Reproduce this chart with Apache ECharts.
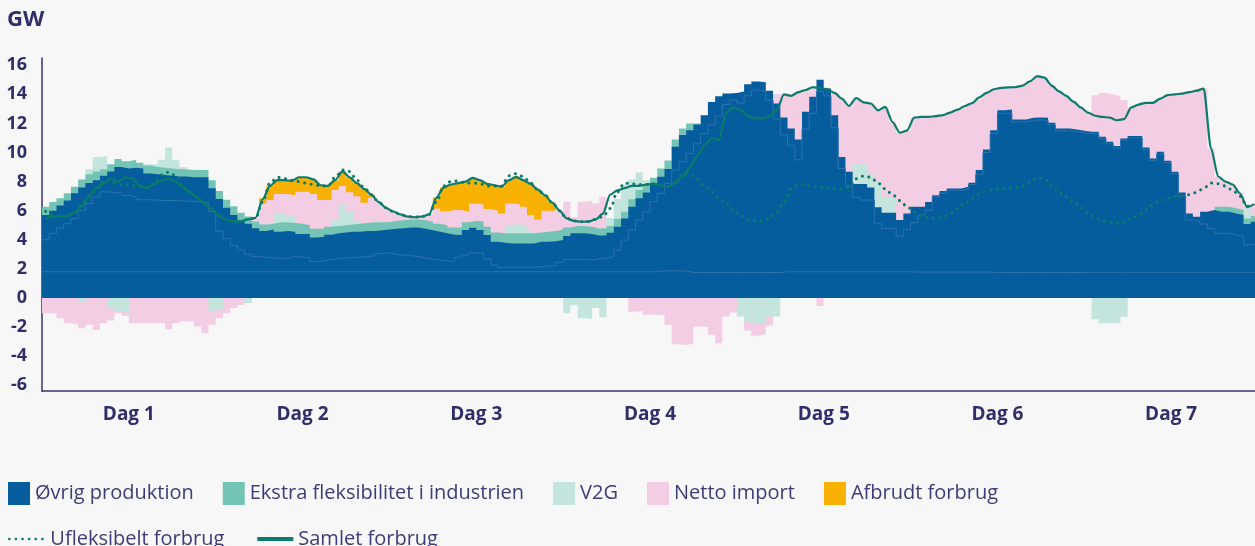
<!DOCTYPE html>
<html>
<head>
<meta charset="utf-8">
<script src="https://cdn.jsdelivr.net/npm/echarts@6.0.0/dist/echarts.min.js"></script>
<style>
html,body{margin:0;padding:0;background:#f7f7f7;}
#chart{width:1255px;height:546px;}
</style>
</head>
<body>
<div id="chart"></div>
<script>
const _ = null;
const dayLabels = ['Dag 1','Dag 2','Dag 3','Dag 4','Dag 5','Dag 6','Dag 7'];
const dayTickHours = [12,36,60,84,108,132,156];
const yTickValues = [-6,-4,-2,0,2,4,6,8,10,12,14,16];

// Level (top edge) of each band per hour, GW. 168 hours.
const ovrigBase = [
1.8,1.8,1.8,1.8,1.8,1.8,1.8,1.8,1.8,1.8,1.8,1.8,1.8,1.8,1.8,1.8,1.8,1.8,1.8,1.8,1.8,1.8,1.8,1.8,
1.8,1.8,1.8,1.8,1.8,1.8,1.8,1.8,1.8,1.8,1.8,1.8,1.8,1.8,1.8,1.8,1.8,1.8,1.8,1.8,1.8,1.8,1.8,1.8,
1.8,1.8,1.8,1.8,1.8,1.8,1.8,1.8,1.8,1.8,1.8,1.8,1.8,1.8,1.8,1.8,1.8,1.8,1.8,1.8,1.8,1.8,1.8,1.8,
1.8,1.8,1.8,1.8,1.8,1.8,1.8,1.8,1.8,1.8,1.8,1.8,1.8,1.86,1.86,1.86,1.86,1.75,1.75,1.75,1.75,1.75,1.75,1.75,
1.75,1.75,1.75,1.75,1.75,1.75,1.8,1.8,1.8,1.8,1.8,1.8,1.8,1.8,1.8,1.8,1.8,1.8,1.8,1.8,1.8,1.8,1.8,1.8,
1.78,1.78,1.78,1.78,1.78,1.78,1.78,1.78,1.78,1.78,1.78,1.75,1.75,1.75,1.75,1.75,1.75,1.75,1.75,1.75,1.75,1.75,1.75,1.75,
1.76,1.76,1.76,1.76,1.76,1.76,1.76,1.76,1.76,1.76,1.76,1.76,1.76,1.76,1.76,1.76,1.76,1.76,1.76,1.76,1.76,1.76,1.76,1.76
];
const ovrigMid = [
4.0,4.45,4.8,5.1,5.45,6.0,6.5,6.95,7.3,7.25,7.2,7.05,6.95,6.75,6.75,6.72,6.7,6.7,6.7,6.65,6.65,6.6,6.55,5.95,
4.6,4.1,3.6,3.3,3.0,2.85,2.8,2.75,2.7,2.75,2.85,2.8,2.75,2.5,2.55,2.65,2.7,2.75,2.78,2.8,2.85,2.9,3.05,3.1,
3.0,2.95,2.9,2.85,2.75,2.65,2.6,2.55,2.5,2.8,2.95,3.1,3.1,2.68,2.27,2.1,2.1,2.1,2.1,2.1,2.15,2.2,2.2,2.45,
2.65,2.65,2.65,2.6,2.7,2.72,2.84,3.3,3.98,4.67,5.36,5.93,6.62,7.19,7.88,8.79,9.36,9.94,10.6,11.3,11.9,12.5,13.3,13.6,
13.4,13.9,14.3,14.2,13.6,12.3,11.2,10.5,9.5,11.6,12.7,14.2,13.9,11.7,8.9,7.7,6.9,6.73,6.73,5.13,4.78,4.78,4.26,4.72,
5.17,5.7,6.04,6.95,7.2,7.4,7.4,7.5,7.8,8.5,10.0,11.3,12.7,12.7,12.1,12.1,12.2,12.25,12.2,11.9,11.5,11.5,11.45,11.35,
11.3,11.3,10.95,10.6,10.3,10.85,11.0,11.0,10.2,9.45,9.9,9.3,8.55,7.0,5.36,5.24,5.08,4.78,4.44,4.44,4.33,4.21,3.64,3.75
];
const ovrigTop = [
5.7,6.0,6.35,6.7,7.2,7.6,7.9,8.1,8.4,8.7,9.0,8.9,8.95,8.9,8.55,8.5,8.45,8.4,8.35,8.35,8.3,8.3,8.3,7.55,
6.8,6.2,5.7,5.35,5.1,4.8,4.6,4.7,4.55,4.6,4.55,4.4,4.4,4.15,4.2,4.35,4.45,4.5,4.55,4.55,4.6,4.6,4.65,4.7,
4.75,4.8,4.85,4.85,4.75,4.65,4.55,4.45,4.35,4.33,4.67,4.83,4.67,4.33,3.87,3.8,3.75,3.75,3.75,3.75,3.87,3.87,3.9,3.98,
4.26,4.44,4.44,4.4,4.3,4.3,4.49,4.9,5.47,6.27,6.85,7.25,7.88,8.33,8.87,10.4,11.2,11.54,11.93,12.57,13.48,13.87,14.06,14.1,
14.2,14.7,14.88,14.83,14.24,13.37,12.4,11.65,10.9,12.8,13.83,15.0,14.4,12.57,9.7,8.68,7.83,7.83,7.6,6.23,5.86,5.86,5.36,5.81,
6.27,6.27,6.59,7.07,7.35,7.53,7.53,7.65,7.92,8.79,10.2,11.54,12.9,12.96,12.27,12.27,12.39,12.4,12.39,12.04,11.65,11.65,11.58,11.49,
11.42,11.42,11.08,10.74,10.44,10.97,11.13,11.13,10.35,9.59,10.05,9.43,8.68,7.25,5.81,5.59,5.93,6.04,5.93,5.93,5.81,5.7,5.08,5.24
];
const ekstraTop = [
6.27,6.6,6.85,7.2,7.65,8.15,8.5,8.7,8.85,9.2,9.55,9.4,9.5,9.3,9.1,9.0,8.95,8.9,8.85,8.85,8.8,8.8,8.8,8.1,
7.35,6.75,6.3,5.85,5.6,5.25,5.05,5.1,5.2,5.2,5.15,5.1,5.0,4.75,4.75,4.9,4.95,5.0,5.05,5.1,5.15,5.2,5.2,5.2,
5.3,5.35,5.4,5.4,5.35,5.25,5.1,5.0,4.85,4.85,5.2,5.3,5.25,4.9,4.5,4.45,4.45,4.45,4.45,4.45,4.5,4.55,4.6,4.7,
4.85,4.95,4.95,4.9,4.78,4.8,4.95,5.45,5.93,6.78,7.42,7.8,8.26,8.9,9.45,10.9,11.65,12.0,12.0,_,_,_,_,_,
_,_,_,_,_,_,_,_,_,_,_,_,_,_,_,_,_,_,_,_,_,_,_,_,
_,_,_,_,_,_,_,_,_,_,_,_,_,_,_,_,_,_,_,_,_,_,_,_,
_,_,_,_,_,_,_,_,_,_,_,_,_,_,_,_,_,_,6.27,6.27,6.16,6.04,5.47,5.63
];
const v2gTop = [
_,_,_,_,_,_,8.85,9.7,9.75,_,_,_,_,_,9.2,9.2,9.5,10.35,9.5,9.0,_,_,_,_,
_,_,_,_,_,_,_,_,5.8,5.7,5.65,_,_,_,_,_,5.35,6.4,5.95,5.25,_,_,_,_,
_,_,_,_,_,_,_,_,_,_,_,_,_,_,_,_,5.0,5.1,4.95,4.6,_,_,_,_,
_,_,_,_,_,_,5.5,6.8,7.8,8.15,8.62,8.1,_,_,_,_,_,_,_,_,_,_,_,_,
_,_,_,_,_,_,_,_,_,_,_,_,_,_,_,_,9.2,9.2,8.5,8.0,6.96,6.96,_,_,
_,_,_,_,_,_,_,_,_,_,_,_,_,_,_,_,_,_,_,_,_,_,_,_,
_,_,_,_,_,_,_,_,_,_,_,_,_,_,_,_,_,_,_,_,_,_,6.16,_
];
const importTop = [
_,_,_,_,_,_,_,_,_,_,_,_,_,_,_,_,_,_,_,_,_,_,_,_,
_,_,_,_,_,5.5,6.5,6.73,7.14,7.14,7.07,7.3,7.3,7.14,6.73,6.73,7.42,7.69,7.26,7.0,6.55,6.91,6.6,6.2,
5.95,5.75,5.6,5.55,5.6,5.75,6.15,5.95,6.05,6.05,5.93,6.5,6.43,6.11,6.0,5.81,6.5,6.46,6.27,5.7,5.4,6.0,6.0,6.0,
6.62,5.55,6.62,6.66,6.5,6.96,_,_,_,_,_,_,_,_,_,_,_,_,_,_,_,_,_,_,
_,_,_,_,_,14.0,14.05,13.95,14.15,14.3,14.5,_,14.45,14.1,13.7,13.2,13.75,13.45,13.37,12.9,13.14,12.1,11.36,11.5,
12.4,12.45,12.45,12.5,12.57,12.75,12.95,13.2,13.4,13.8,14.1,14.35,14.45,14.48,14.5,14.6,14.9,15.25,15.15,14.6,14.2,13.9,13.5,13.1,
12.75,13.94,14.1,14.0,13.87,13.6,13.1,13.3,13.42,13.42,13.7,13.95,14.0,14.05,14.15,14.25,14.4,10.3,8.35,8.0,7.8,7.2,6.3,6.45
];
const afbrudtTop = [
_,_,_,_,_,_,_,_,_,_,_,_,_,_,_,_,_,_,_,_,_,_,_,_,
_,_,_,_,_,_,6.85,7.7,8.1,8.1,8.05,8.3,8.3,8.15,7.75,7.7,8.1,8.7,8.3,7.9,7.5,7.1,_,_,
_,_,_,_,_,_,6.9,7.6,7.8,7.9,8.0,8.25,8.1,7.85,7.75,7.65,8.1,8.33,8.1,7.85,7.45,7.05,6.55,_,
_,_,_,_,_,_,_,_,_,_,_,_,_,_,_,_,_,_,_,_,_,_,_,_,
_,_,_,_,_,_,_,_,_,_,_,_,_,_,_,_,_,_,_,_,_,_,_,_,
_,_,_,_,_,_,_,_,_,_,_,_,_,_,_,_,_,_,_,_,_,_,_,_,
_,_,_,_,_,_,_,_,_,_,_,_,_,_,_,_,_,_,_,_,_,_,_,_
];
// Negative side: bottom edge levels
const importNeg = [
-1.05,-1.05,-1.4,-1.74,-1.85,-2.08,-1.85,-2.2,-1.74,-1.56,-1.05,-1.24,-1.74,-1.74,-1.7,-1.74,-1.74,-2.15,-1.74,-1.6,-1.6,-1.97,-2.43,-1.85,
-1.4,-1.05,-0.7,-0.48,_,_,_,_,_,_,_,_,_,_,_,_,_,_,_,_,_,_,_,_,
_,_,_,_,_,_,_,_,_,_,_,_,_,_,_,_,_,_,_,_,_,_,_,_,
_,_,_,_,_,_,_,_,_,-0.95,-0.9,-1.15,-1.15,-1.17,-1.85,-3.18,-3.23,-3.15,-1.97,-2.0,-2.54,-3.11,-1.28,-1.0,
_,-2.24,-2.6,-2.5,-1.9,_,_,_,_,_,_,-0.55,_,_,_,_,_,_,_,_,_,_,_,_,
_,_,_,_,_,_,_,_,_,_,_,_,_,_,_,_,_,_,_,_,_,_,_,_,
_,_,_,_,_,_,_,_,_,_,_,_,_,_,_,_,_,_,_,_,_,_,_,_
];
const v2gNeg = [
_,_,_,_,_,-0.3,_,_,_,-0.7,-0.94,-1.05,_,_,_,_,_,_,_,_,_,_,_,-0.94,
-0.8,_,_,_,-0.35,_,_,_,_,_,_,_,_,_,_,_,_,_,_,_,_,_,_,_,
_,_,_,_,_,_,_,_,_,_,_,_,_,_,_,_,_,_,_,_,_,_,_,_,
-1.05,-0.5,-1.4,-1.45,-0.7,-1.33,_,_,_,_,_,_,_,_,_,_,_,_,_,_,_,_,_,_,
-1.28,-1.6,-1.8,-1.8,-1.28,-1.28,_,_,_,_,_,_,_,_,_,_,_,_,_,_,_,_,_,_,
_,_,_,_,_,_,_,_,_,_,_,_,_,_,_,_,_,_,_,_,_,_,_,_,
_,-1.47,-1.74,-1.74,-1.74,-1.3,_,_,_,_,_,_,_,_,_,_,_,_,_,_,_,_,_,_
];
const samletForbrug = [
5.45,5.6,5.62,5.63,5.88,6.3,7.05,7.55,7.9,8.2,7.98,8.3,8.2,7.7,7.55,7.82,8.08,8.2,7.98,7.6,7.25,6.88,6.45,6.1,
5.62,5.36,5.28,5.28,5.4,5.5,6.8,7.7,8.1,8.1,8.05,8.3,8.3,8.15,7.75,7.7,8.1,8.7,8.3,7.9,7.5,7.1,6.6,6.2,
5.95,5.75,5.6,5.55,5.6,5.75,6.9,7.6,7.8,7.9,8.0,8.25,8.1,7.85,7.75,7.65,8.1,8.33,8.1,7.85,7.45,7.05,6.55,6.0,
5.47,5.3,5.24,5.25,5.4,5.8,7.1,7.4,7.55,7.7,7.7,7.8,7.85,7.75,7.65,7.9,8.35,8.95,9.75,10.5,11.0,10.85,12.7,13.1,
12.95,12.5,12.35,12.35,12.5,12.9,14.0,13.9,14.15,14.3,14.5,14.42,14.35,14.1,13.7,13.2,13.75,13.45,13.37,12.9,13.14,12.1,11.36,11.5,
12.4,12.45,12.45,12.5,12.57,12.75,12.95,13.2,13.4,13.8,14.1,14.35,14.45,14.48,14.5,14.6,14.9,15.25,15.15,14.6,14.2,13.9,13.5,13.1,
12.75,12.53,12.45,12.4,12.22,12.3,13.1,13.3,13.42,13.42,13.7,13.95,14.0,14.05,14.15,14.25,14.4,10.3,8.35,8.0,7.8,7.2,6.25,6.45
];
const ufleksibeltForbrug = [
5.95,5.7,5.62,5.63,5.9,6.4,6.9,7.5,8.05,8.0,7.8,7.75,7.72,7.7,7.6,7.95,8.45,8.65,8.4,7.7,7.25,6.88,6.45,6.1,
5.62,5.36,5.28,5.28,5.4,5.5,6.6,7.9,8.3,8.2,8.1,8.0,7.9,7.8,7.7,7.7,8.3,8.8,8.7,8.1,7.6,7.1,6.6,6.2,
5.95,5.75,5.6,5.55,5.6,5.75,6.6,7.7,8.0,8.05,7.9,7.9,7.85,7.7,7.7,7.7,8.4,8.55,8.35,7.9,7.45,7.05,6.55,6.0,
5.47,5.3,5.24,5.25,5.4,5.6,6.15,7.3,7.9,7.85,7.8,7.8,7.85,7.75,7.65,7.95,8.55,8.55,8.15,7.7,7.3,6.9,6.5,6.05,
5.65,5.4,5.3,5.25,5.45,5.9,6.55,7.5,7.83,7.75,7.65,7.6,7.55,7.5,7.45,7.6,8.2,8.38,8.3,7.9,7.5,7.1,6.7,6.3,
5.9,5.65,5.5,5.47,5.55,5.8,6.15,6.5,6.85,7.15,7.35,7.45,7.5,7.55,7.6,7.7,7.95,8.25,8.2,7.75,7.25,6.95,6.6,6.2,
5.85,5.55,5.3,5.2,5.13,5.2,5.45,5.7,6.05,6.4,6.7,6.85,7.0,7.05,7.1,7.25,7.55,7.9,7.85,7.7,7.4,7.0,6.3,6.35
];

const C = {
  blue:'#065d9e', blueLine:'#2c72ae', teal:'#73c4b5', mint:'#c4e5dd',
  pink:'#f2cde3', orange:'#f8b100', green:'#0b7b6b', text:'#2f2e6b', legend:'#3d3c78'
};
const FONT = '"Open Sans", "Noto Sans", sans-serif';

// hour i spans [i, i+1]
function stepData(arr){
  const d = [];
  arr.forEach((v,i) => {
    if (v === null) d.push([i+0.5, null]);
    else { d.push([i, v]); d.push([i+1, v]); }
  });
  return d;
}
function area(name, arr, color, stroke){
  return {
    name, type:'line', data: stepData(arr), symbol:'none', showSymbol:false,
    connectNulls:false, silent:true, animation:false,
    itemStyle:{color},
    lineStyle: stroke ? {color: stroke, width: 1} : {width: 0, opacity: 0},
    areaStyle:{color, opacity:1},
    emphasis:{disabled:true}
  };
}
function lineData(arr){ return arr.map((v,i) => [i+0.5, v]); }

const chart = echarts.init(document.getElementById('chart'), null, {renderer:'canvas'});
chart.setOption({
  backgroundColor:'#f7f7f7',
  animation:false,
  title:{text:'GW', left:7, top:9, padding:0,
    textStyle:{fontFamily:FONT, fontSize:22, fontWeight:'bold', color:C.text}},
  grid:{left:42, top:58, width:1216, height:333, outerBoundsMode:'none', containLabel:false},
  legend:[
    {left:8, top:482, width:1240, padding:0, itemWidth:22, itemHeight:23, itemGap:29, selectedMode:false,
     itemStyle:{borderWidth:0},
     textStyle:{fontFamily:FONT, fontSize:20, color:C.legend},
     data:[
       {name:'Øvrig produktion', icon:'rect'},
       {name:'Ekstra fleksibilitet i industrien', icon:'rect'},
       {name:'V2G', icon:'rect'},
       {name:'Netto import', icon:'rect'},
       {name:'Afbrudt forbrug', icon:'rect'}
     ]},
    {left:8, top:529, width:1240, padding:0, itemWidth:36, itemHeight:14, itemGap:31, selectedMode:false,
     itemStyle:{opacity:0},
     textStyle:{fontFamily:FONT, fontSize:20, color:C.legend},
     data:[
       {name:'Ufleksibelt forbrug', lineStyle:{width:2.6}},
       {name:'Samlet forbrug', lineStyle:{width:4}}
     ]}
  ],
  xAxis:{
    type:'value', min:0, max:168,
    axisLine:{show:true, onZero:false, lineStyle:{color:'#35346f', width:1.5}},
    axisTick:{show:false}, splitLine:{show:false},
    axisLabel:{customValues:dayTickHours, margin:14,
      formatter:(v) => dayLabels[dayTickHours.indexOf(v)] || '',
      fontFamily:FONT, fontSize:19, fontWeight:'bold', color:C.text}
  },
  yAxis:{
    type:'value', min:-6.4, max:16.5,
    axisLine:{show:true, lineStyle:{color:'#35346f', width:1.5}},
    axisTick:{show:false}, splitLine:{show:false},
    axisLabel:{customValues:yTickValues, margin:15,
      fontFamily:FONT, fontSize:18, fontWeight:'bold', color:C.text}
  },
  series:[
    area('Afbrudt forbrug', afbrudtTop, C.orange),
    area('Netto import', importTop, C.pink),
    area('V2G', v2gTop, C.mint),
    area('Ekstra fleksibilitet i industrien', ekstraTop, C.teal),
    area('Øvrig produktion', ovrigTop, C.blue),
    area('Øvrig produktion (mellem)', ovrigMid, C.blue, C.blueLine),
    area('Øvrig produktion (basis)', ovrigBase, C.blue, C.blueLine),
    area('Netto import (eksport)', importNeg, C.pink),
    area('V2G (opladning)', v2gNeg, C.mint),
    {name:'Ufleksibelt forbrug', type:'line', data:lineData(ufleksibeltForbrug), symbol:'none',
     smooth:0.4, smoothMonotone:'x', silent:true, itemStyle:{color:C.green},
     lineStyle:{color:C.green, width:3, type:[0.1,6.5], cap:'round'}},
    {name:'Samlet forbrug', type:'line', data:lineData(samletForbrug), symbol:'none',
     smooth:0.25, smoothMonotone:'x', silent:true, itemStyle:{color:C.green},
     lineStyle:{color:C.green, width:2.2}}
  ]
});
</script>
</body>
</html>
